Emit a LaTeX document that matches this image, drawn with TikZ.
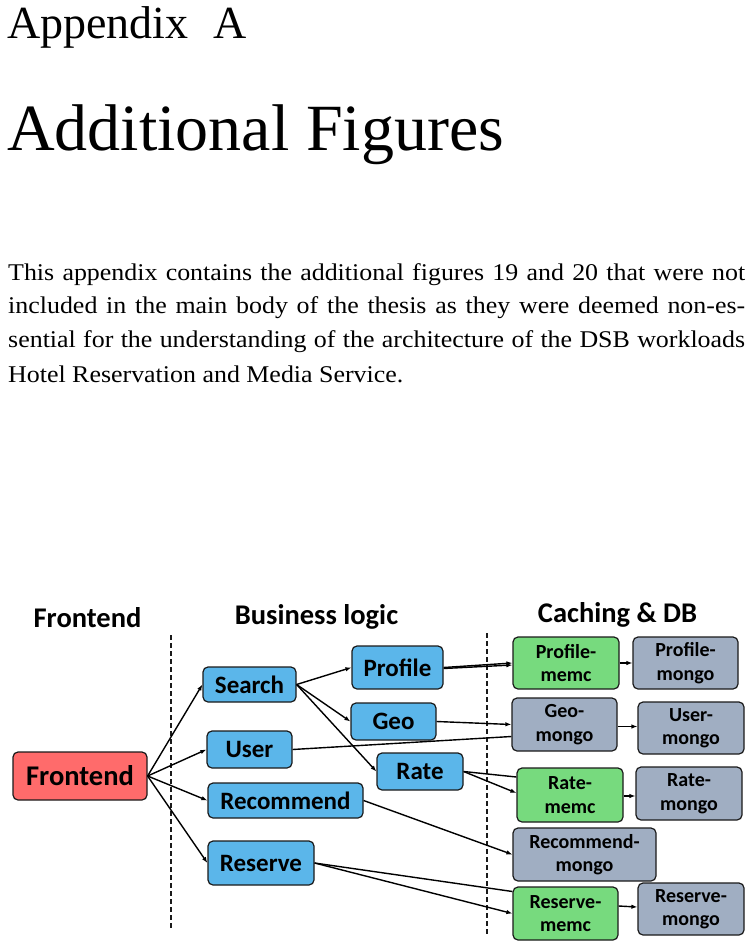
\documentclass[tikz,border=0pt]{standalone}
\usepackage{fontspec}
\setmainfont{Liberation Serif}
\newfontfamily\bodyfont[FakeStretch=1.08]{Liberation Serif}
\newfontfamily\carlito{Carlito}
\usetikzlibrary{arrows.meta}
\definecolor{fered}{HTML}{FF6B6B}
\definecolor{blbox}{HTML}{5BB6EA}
\definecolor{grbox}{HTML}{77DA7E}
\definecolor{gybox}{HTML}{A0AEC2}
\definecolor{edge}{HTML}{1A1A1A}
\tikzset{
  boxbase/.style={draw=edge, line width=1.2pt, rounded corners=5pt, inner sep=0pt, align=center, text=black},
  redbox/.style={boxbase, fill=fered, font=\carlito\bfseries\fontsize{28.5}{30}\selectfont},
  bluebox/.style={boxbase, fill=blbox, font=\carlito\bfseries\fontsize{25}{26}\selectfont},
  greenbox/.style={boxbase, fill=grbox, font=\carlito\bfseries\fontsize{20}{23.5}\selectfont},
  graybox/.style={boxbase, fill=gybox, font=\carlito\bfseries\fontsize{20}{23.5}\selectfont},
  coltitle/.style={anchor=base, inner sep=0pt, font=\carlito\bfseries\fontsize{28.5}{30}\selectfont},
  conn/.style={line width=1.4pt, draw=black},
  arr/.style={conn, -{Latex[length=6pt,width=4.5pt]}},
  divider/.style={line width=1.2pt, draw=edge, dash pattern=on 5pt off 3pt},
  bodyline/.style={anchor=base west, inner sep=0pt, font=\bodyfont\fontsize{24}{34}\selectfont}
}
\begin{document}
\begin{tikzpicture}[x=1pt, y=-1pt]
\useasboundingbox (0,0) rectangle (753,947);
% page text
\node[anchor=base west, inner sep=0pt, font=\fontsize{46}{50}\selectfont] (apx) at (7,39) {Appendix\hspace{25pt}A};
\node[anchor=base west, inner sep=0pt, font=\fontsize{66}{70}\selectfont] (ttl) at (7,150) {Additional Figures};
\node[bodyline] (l1) at (8,280) {\makebox[737pt][s]{This appendix contains the additional figures 19 and 20 that were not}};
\node[bodyline] (l2) at (8,313) {\makebox[737pt][s]{included in the main body of the thesis as they were deemed non-es-}};
\node[bodyline] (l3) at (8,347) {\makebox[737pt][s]{sential for the understanding of the architecture of the DSB workloads}};
\node[bodyline] (l4) at (8,382) {Hotel Reservation and Media Service.};
% column titles
\node[coltitle] (t1) at (87.5,627) {Frontend};
\node[coltitle] (t2) at (316.5,624) {Business logic};
\node[coltitle] (t3) at (617.5,622) {Caching \& DB};
% dividers
\coordinate (d1t) at (171,635); \coordinate (d1b) at (171,928);
\coordinate (d2t) at (487,633); \coordinate (d2b) at (487,935);
\draw[divider] (d1t) -- (d1b);
\draw[divider] (d2t) -- (d2b);
% nodes
\node[redbox, minimum width=134pt, minimum height=48pt] (fe) at (80,776) {Frontend};
\node[bluebox, minimum width=93pt, minimum height=35pt] (search) at (249.5,684.5) {Search};
\node[bluebox, minimum width=85pt, minimum height=37pt] (user) at (249.5,749.5) {User};
\node[bluebox, minimum width=155pt, minimum height=35pt] (recom) at (285.5,800.5) {Recommend};
\node[bluebox, minimum width=106pt, minimum height=44pt] (reserve) at (261,863) {Reserve};
\node[bluebox, minimum width=91pt, minimum height=43pt] (profile) at (397.5,667.5) {Profile};
\node[bluebox, minimum width=85pt, minimum height=37pt] (geo) at (393.5,721.5) {Geo};
\node[bluebox, minimum width=86pt, minimum height=37pt] (rate) at (420,771.5) {Rate};
\node[greenbox, minimum width=106pt, minimum height=52pt] (pmemc) at (566,663) {Profile-\\memc};
\node[graybox, minimum width=105pt, minimum height=52pt] (pmongo) at (685.5,663) {Profile-\\mongo};
\node[graybox, minimum width=105pt, minimum height=53pt] (gmongo) at (564.5,724.5) {Geo-\\mongo};
\node[graybox, minimum width=106pt, minimum height=52pt] (umongo) at (691,728) {User-\\mongo};
\node[greenbox, minimum width=106pt, minimum height=54pt] (rmemc) at (570,795) {Rate-\\memc};
\node[graybox, minimum width=106pt, minimum height=53pt] (rmongo) at (689,793.5) {Rate-\\mongo};
\node[graybox, minimum width=143pt, minimum height=53pt] (recmongo) at (584.5,854.5) {Recommend-\\mongo};
\node[greenbox, minimum width=105pt, minimum height=53pt] (resmemc) at (565.5,913.5) {Reserve-\\memc};
\node[graybox, minimum width=106pt, minimum height=52pt] (resmongo) at (691,909) {Reserve-\\mongo};
% connectors
\draw[arr] (fe.east) -- (search.west);
\draw[arr] (fe.east) -- (user.west);
\draw[arr] (fe.east) -- (recom.west);
\draw[arr] (fe.east) -- (reserve.west);
\draw[arr] (search.east) -- (profile.west);
\draw[arr] (search.east) -- (geo.west);
\draw[arr] (search.east) -- (rate.west);
\draw[arr] (profile.east) -- (pmemc.west);
\draw[arr] ([yshift=-1pt]profile.east) -- ([yshift=-2pt]pmemc.west);
\draw[arr] (geo.east) -- (gmongo.west);
\draw[conn] (user.east) -- ([yshift=-12pt]gmongo.west);
\draw[conn] (rate.east) -- ([yshift=18pt]rmemc.west);
\draw[arr] (rate.east) -- ([yshift=2pt]rmemc.west);
\draw[arr] (recom.east) -- (recmongo.west);
\draw[conn] (reserve.east) -- ([yshift=22pt]resmemc.west);
\draw[arr] (reserve.east) -- (resmemc.west);
\draw[arr] (pmemc.east) -- (pmongo.west);
\draw[arr] ([yshift=-2pt]gmongo.east) -- ([yshift=-2pt]gmongo.east -| umongo.west);
\draw[arr] ([yshift=-1pt]rmemc.east) -- ([yshift=-1pt]rmemc.east -| rmongo.west);
\draw[arr] ([yshift=7.5pt]resmemc.east) -- ([yshift=2pt]resmongo.west);
\end{tikzpicture}
\end{document}
